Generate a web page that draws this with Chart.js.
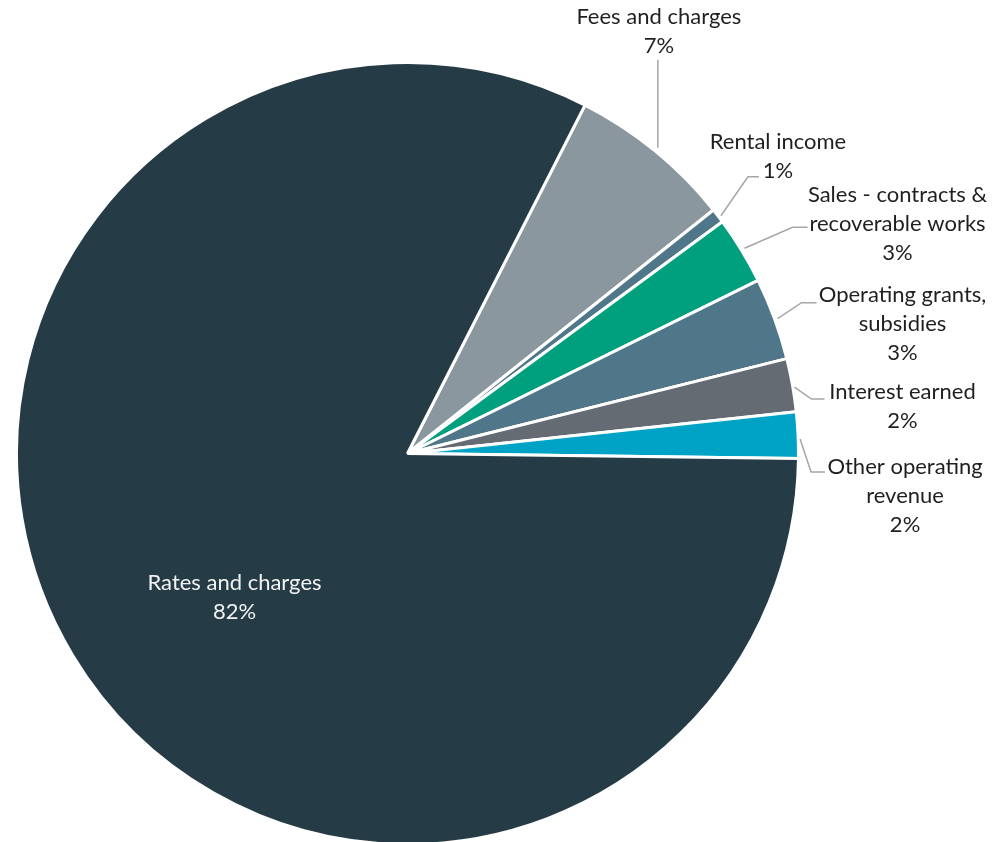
<!DOCTYPE html>
<html>
<head>
<meta charset="utf-8">
<script src="https://cdn.jsdelivr.net/npm/chart.js@4.4.0/dist/chart.umd.min.js"></script>
<style>
  html, body { margin: 0; padding: 0; background: #fff; overflow: hidden; }
  #revenueChart { display: block; }
</style>
</head>
<body>
<canvas id="revenueChart" width="992" height="846"></canvas>
<script>
// revenue split, percent of total
var categories = [
  "Fees and charges",
  "Rental income",
  "Sales - contracts & recoverable works",
  "Operating grants, subsidies",
  "Interest earned",
  "Other operating revenue",
  "Rates and charges"
];
var values = [6.8, 0.6, 2.8, 3.4, 2.2, 1.9, 82.3];

// how each label is broken into lines
var labelLines = [
  ["Fees and charges"],
  ["Rental income"],
  ["Sales - contracts &", "recoverable works"],
  ["Operating grants,", "subsidies"],
  ["Interest earned"],
  ["Other operating", "revenue"],
  ["Rates and charges"]
];

var colors = ["#8a979e", "#4f7789", "#009f7e", "#4f7789", "#646b72", "#00a3c6", "#253c47"];

// callout layout: offsets from the arc's outer mid point (leader + text),
// the big slice gets its label inside, offset from the pie centre
var callouts = [
  { leader: [[3, -3], [3, -91]], text: [4, -134] },
  { leader: [[3, 0], [30, -39], [41, -39]], text: [60, -74] },
  { leader: [[3, -2], [51, -23], [66, -23]], text: [156, -55] },
  { leader: [[3, 0], [27, -16], [42, -16]], text: [128, -24] },
  { leader: [[2, 2], [19, 14], [32, 14]], text: [110, 7] },
  { leader: [[2, 4], [13, 37], [27, 37]], text: [107, 32] },
  { inside: true, text: [-173, 129], color: "#f2f2f2" }
];

var lineStep = 29;

var calloutPlugin = {
  id: 'callouts',
  afterDatasetsDraw: function (chart) {
    var ctx = chart.ctx;
    var meta = chart.getDatasetMeta(0);
    var total = values.reduce(function (a, b) { return a + b; }, 0);
    ctx.save();
    ctx.font = "22px Lato";
    ctx.textAlign = "center";
    ctx.textBaseline = "middle";
    meta.data.forEach(function (arc, i) {
      var p = arc.getProps(['x', 'y', 'startAngle', 'endAngle', 'outerRadius'], true);
      var mid = (p.startAngle + p.endAngle) / 2;
      var ex = p.x + Math.cos(mid) * p.outerRadius;
      var ey = p.y + Math.sin(mid) * p.outerRadius;
      var c = callouts[i];
      var tx, ty;
      if (c.inside) {
        tx = p.x + c.text[0];
        ty = p.y + c.text[1];
      } else {
        ctx.strokeStyle = "#a6a6a6";
        ctx.lineWidth = 1.5;
        ctx.beginPath();
        c.leader.forEach(function (pt, k) {
          if (k === 0) ctx.moveTo(ex + pt[0], ey + pt[1]);
          else ctx.lineTo(ex + pt[0], ey + pt[1]);
        });
        ctx.stroke();
        tx = ex + c.text[0];
        ty = ey + c.text[1];
      }
      var lines = labelLines[i].concat([Math.round(values[i] / total * 100) + "%"]);
      ctx.fillStyle = c.color || "#1f1f1f";
      lines.forEach(function (t, k) {
        ctx.fillText(t, tx, ty + k * lineStep);
      });
    });
    ctx.restore();
  }
};

new Chart(document.getElementById('revenueChart').getContext('2d'), {
  type: 'pie',
  data: {
    labels: categories,
    datasets: [{
      data: values,
      backgroundColor: colors,
      borderColor: "#ffffff",
      borderWidth: 3,
      hoverOffset: 0
    }]
  },
  options: {
    responsive: false,
    animation: false,
    devicePixelRatio: 1,
    rotation: 27,
    layout: { padding: { left: 15, right: 192, top: 61, bottom: 0 } },
    plugins: {
      legend: { display: false },
      tooltip: { enabled: false }
    }
  },
  plugins: [calloutPlugin]
});
</script>
</body>
</html>
